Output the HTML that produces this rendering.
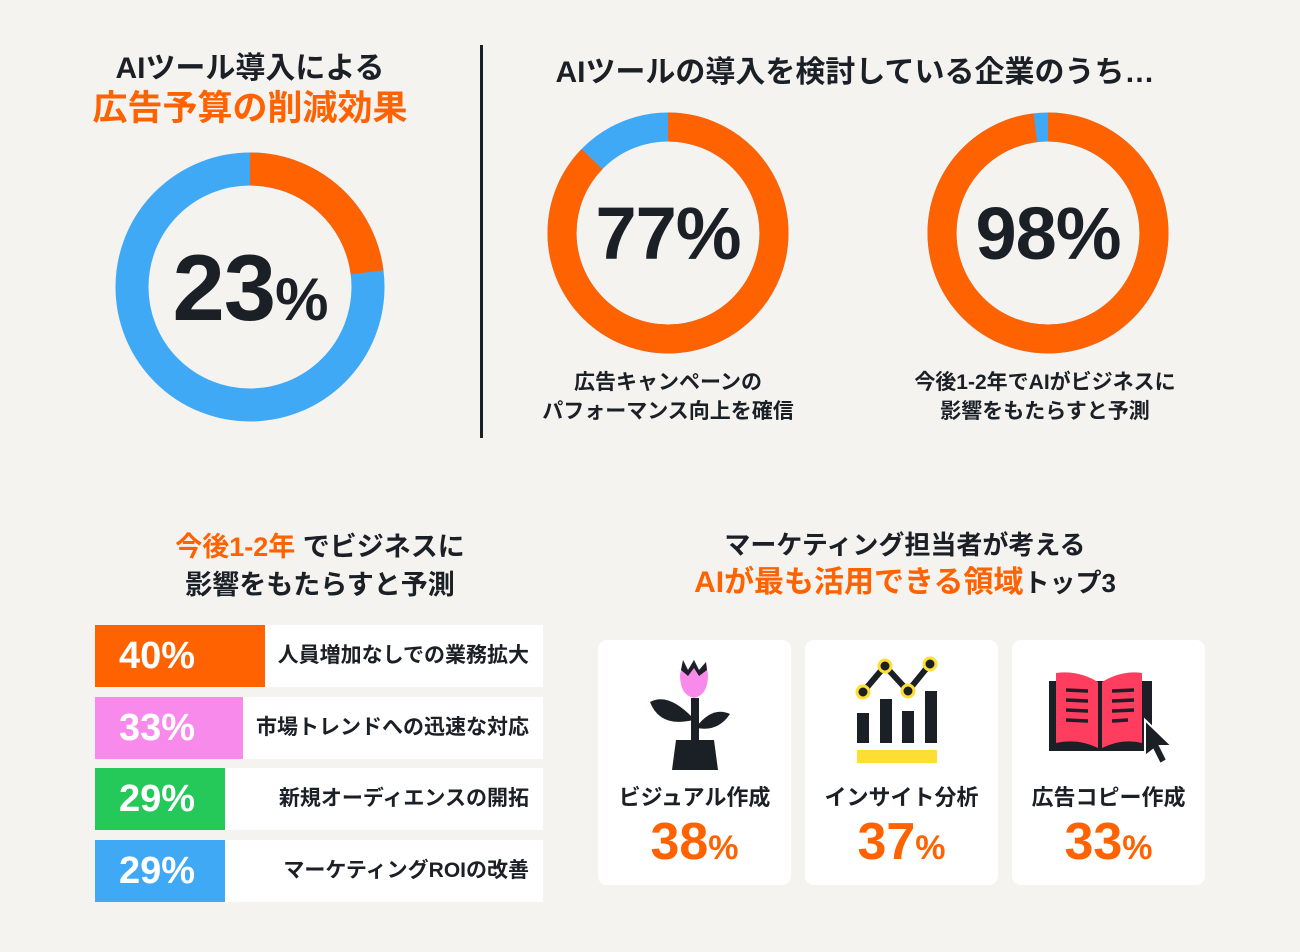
<!DOCTYPE html>
<html><head><meta charset="utf-8"><style>
*{margin:0;padding:0;box-sizing:border-box}
body{width:1300px;height:952px;background:#f4f3f0;font-family:"Liberation Sans","Noto Sans CJK JP",sans-serif;color:#1b1f26;position:relative;overflow:hidden}
.t{position:absolute;text-align:center;font-weight:bold;white-space:nowrap}
.o{color:#ff6200}
.row{position:absolute;left:95px;width:448px;height:62px;background:#fff}
.row .c{position:absolute;left:0;top:0;height:62px;color:#fff;font-size:38px;font-weight:bold;line-height:62px;padding-left:24px}
.row .l{position:absolute;right:14px;top:0;line-height:62px;font-size:21px;font-weight:bold;color:#1b1f26}
.card{position:absolute;top:640px;width:193px;height:245px;background:#fff;border-radius:9px}
.card .n{position:absolute;left:0;right:0;top:140px;text-align:center;font-size:22px;font-weight:bold}
.card .p{position:absolute;left:0;right:0;top:172px;text-align:center;font-size:52px;font-weight:bold;color:#ff6200}
.card .p span{font-size:34px}
</style></head><body>
<div class="t" style="left:0;width:500px;top:50px;font-size:30px;line-height:38px">AIツール導入による</div>
<div class="t o" style="left:0;width:500px;top:86px;font-size:35px;line-height:46px">広告予算の削減効果</div>
<div style="position:absolute;left:480px;top:45px;width:3px;height:393px;background:#1b1f26"></div>
<div class="t" style="left:500px;width:710px;top:54px;font-size:30px;line-height:38px">AIツールの導入を検討している企業のうち…</div>
<svg width="1300" height="952" style="position:absolute;left:0;top:0">
<g transform="rotate(-90 250 287)">
<circle cx="250" cy="287" r="118" fill="none" stroke="#3fa9f5" stroke-width="33"/>
<circle cx="250" cy="287" r="118" fill="none" stroke="#ff6200" stroke-width="33" stroke-dasharray="170.5 1000"/>
</g>
<g transform="rotate(-90 668 233)">
<circle cx="668" cy="233" r="106" fill="none" stroke="#3fa9f5" stroke-width="29"/>
<circle cx="668" cy="233" r="106" fill="none" stroke="#ff6200" stroke-width="29" stroke-dasharray="581 1000"/>
</g>
<g transform="rotate(-90 1048 233)">
<circle cx="1048" cy="233" r="106" fill="none" stroke="#3fa9f5" stroke-width="29"/>
<circle cx="1048" cy="233" r="106" fill="none" stroke="#ff6200" stroke-width="29" stroke-dasharray="653 1000"/>
</g>
</svg>
<div class="t" style="left:150px;width:200px;top:238px;font-size:94px;line-height:100px;letter-spacing:-1px">23<span style="font-size:60px">%</span></div>
<div class="t" style="left:568px;width:200px;top:192px;font-size:74px;line-height:84px;letter-spacing:-1px">77%</div>
<div class="t" style="left:948px;width:200px;top:192px;font-size:74px;line-height:84px;letter-spacing:-1px">98%</div>
<div class="t" style="left:518px;width:300px;top:368px;font-size:21px;line-height:29px">広告キャンペーンの<br>パフォーマンス向上を確信</div>
<div class="t" style="left:890px;width:310px;top:368px;font-size:21px;line-height:29px">今後1-2年でAIがビジネスに<br>影響をもたらすと予測</div>
<div class="t" style="left:60px;width:520px;top:528px;font-size:27px;line-height:38px"><span class="o">今後1-2年</span> でビジネスに<br>影響をもたらすと予測</div>
<div class="t" style="left:600px;width:610px;top:526px;font-size:26px;line-height:38px">マーケティング担当者が考える<br><span class="o" style="font-size:30px">AIが最も活用できる領域</span>トップ3</div>
<div class="row" style="top:625px"><div class="c" style="width:170px;background:#ff6200">40%</div><div class="l">人員増加なしでの業務拡大</div></div>
<div class="row" style="top:697px"><div class="c" style="width:148px;background:#f88aeb">33%</div><div class="l">市場トレンドへの迅速な対応</div></div>
<div class="row" style="top:768px"><div class="c" style="width:130px;background:#25c95a">29%</div><div class="l">新規オーディエンスの開拓</div></div>
<div class="row" style="top:840px"><div class="c" style="width:130px;background:#3fa9f5">29%</div><div class="l">マーケティングROIの改善</div></div>
<div class="card" style="left:598px">
<svg width="193" height="130" style="position:absolute;left:0;top:0">
<path d="M85 20 L90 30 L96 20 L101 30 L108 22 L110 35 Q110 55 96 58 Q82 55 82 35 Z" fill="#f88aeb"/>
<path d="M85 20 L90 30 L96 20 L101 30 L108 22 L109 30 L101 36 L96 28 L90 36 L83 30Z" fill="#1b1f26"/>
<rect x="93" y="58" width="8" height="45" fill="#1b1f26"/>
<path d="M95 78 Q70 52 52 62 Q62 88 95 80Z" fill="#1b1f26"/>
<path d="M99 86 Q115 66 132 74 Q120 92 99 88Z" fill="#1b1f26"/>
<path d="M78 100 L116 100 L120 130 L74 130Z" fill="#1b1f26"/>
</svg>
<div class="n">ビジュアル作成</div><div class="p">38<span>%</span></div></div>
<div class="card" style="left:805px">
<svg width="193" height="130" style="position:absolute;left:0;top:0">
<rect x="52" y="73" width="12" height="30" fill="#1b1f26"/><rect x="75" y="59" width="12" height="44" fill="#1b1f26"/>
<rect x="97" y="71" width="12" height="32" fill="#1b1f26"/><rect x="120" y="51" width="12" height="52" fill="#1b1f26"/>
<rect x="52" y="110" width="80" height="13" fill="#ffde33"/>
<polyline points="58,52 80,26 103,51 125,24" fill="none" stroke="#1b1f26" stroke-width="6"/>
<g fill="#1b1f26" stroke="#ffde33" stroke-width="3"><circle cx="58" cy="52" r="6"/><circle cx="80" cy="26" r="6"/><circle cx="103" cy="51" r="6"/><circle cx="125" cy="24" r="6"/></g>
</svg>
<div class="n">インサイト分析</div><div class="p">37<span>%</span></div></div>
<div class="card" style="left:1012px">
<svg width="193" height="130" style="position:absolute;left:0;top:0">
<rect x="37" y="41" width="103" height="70" fill="#1b1f26"/>
<path d="M44 33 Q66 30 86 42 L86 108 Q66 98 44 103Z" fill="#ff3d5e"/>
<path d="M90 42 Q110 30 130 33 L130 103 Q110 98 90 108Z" fill="#ff3d5e"/>
<g stroke="#1b1f26" stroke-width="3.5"><line x1="54" y1="50" x2="76" y2="51"/><line x1="54" y1="60" x2="76" y2="61"/><line x1="54" y1="70" x2="76" y2="71"/><line x1="54" y1="80" x2="76" y2="81"/><line x1="100" y1="51" x2="122" y2="50"/><line x1="100" y1="61" x2="122" y2="60"/><line x1="100" y1="71" x2="122" y2="70"/><line x1="100" y1="81" x2="116" y2="80"/></g>
<path d="M133 80 L160 106 L148 106 L155 120 L148 124 L141 110 L133 116Z" fill="#1b1f26" stroke="#fff" stroke-width="2"/>
</svg>
<div class="n">広告コピー作成</div><div class="p">33<span>%</span></div></div>
</body></html>
